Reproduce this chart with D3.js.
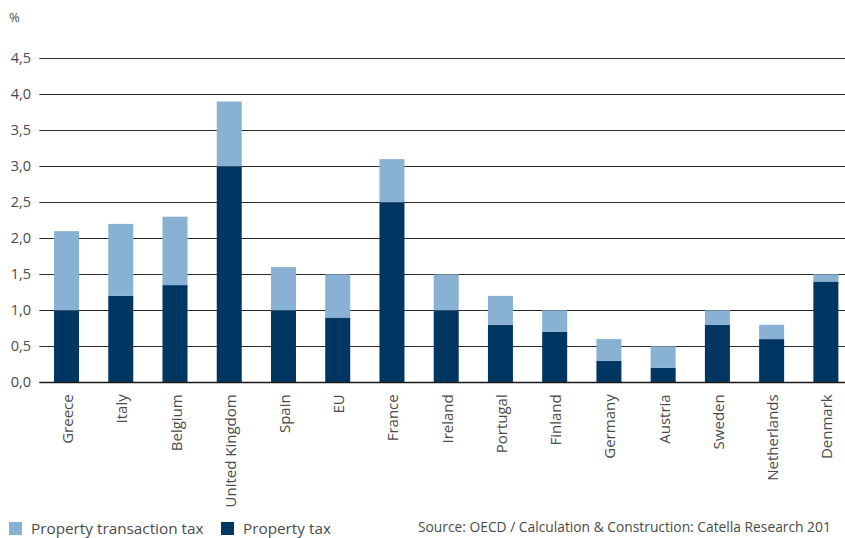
<!DOCTYPE html>
<html>
<head>
<meta charset="utf-8">
<script src="https://cdn.jsdelivr.net/npm/d3@7"></script>
<style>
  html, body { margin: 0; padding: 0; background: #fff; }
  svg { display: block; font-family: "Open Sans", Lato, sans-serif; }
</style>
</head>
<body>
<svg id="chart" width="845" height="538"></svg>
<script>
// Countries, left to right
const countries = ["Greece", "Italy", "Belgium", "United Kingdom", "Spain", "EU", "France",
  "Ireland", "Portugal", "Finland", "Germany", "Austria", "Sweden", "Netherlands", "Denmark"];
// Property tax, % (bottom segment)
const propertyTax = [1.0, 1.2, 1.35, 3.0, 1.0, 0.9, 2.5, 1.0, 0.8, 0.7, 0.3, 0.2, 0.8, 0.6, 1.4];
// Property transaction tax, % (stacked on top)
const transactionTax = [1.1, 1.0, 0.95, 0.9, 0.6, 0.6, 0.6, 0.5, 0.4, 0.3, 0.3, 0.3, 0.2, 0.2, 0.1];
// Y axis ticks
const yTicks = [0, 0.5, 1.0, 1.5, 2.0, 2.5, 3.0, 3.5, 4.0, 4.5];
const seriesNames = ["Property transaction tax", "Property tax"];
const sourceText = "Source: OECD / Calculation & Construction: Catella Research 201";

const colLight = "#89b1d4";
const colDark = "#003662";
const textCol = "#4a4a4a";

const svg = d3.select("#chart");

const x = d3.scaleBand()
  .domain(countries)
  .range([39.4, 853])
  .paddingInner(0.539)
  .paddingOuter(0.2695);

const y = d3.scaleLinear()
  .domain([0, 4.5])
  .range([382.3, 58.3]);

// Gridlines
svg.append("g")
  .selectAll("line")
  .data(yTicks)
  .join("line")
  .attr("x1", 39.4)
  .attr("x2", 853)
  .attr("y1", d => Math.round(y(d)) + 0.5)
  .attr("y2", d => Math.round(y(d)) + 0.5)
  .attr("stroke", "#2a2a2a")
  .attr("stroke-width", 1.1);

// Y tick labels
const fmt = d => d3.format(".1f")(d).replace(".", ",");
svg.append("g")
  .selectAll("text")
  .data(yTicks)
  .join("text")
  .attr("x", 31)
  .attr("y", d => y(d))
  .attr("dy", "0.35em")
  .attr("text-anchor", "end")
  .attr("font-size", 14.5)
  .attr("fill", textCol)
  .text(fmt);

svg.append("text")
  .attr("x", 9)
  .attr("y", 22)
  .attr("font-size", 13)
  .attr("fill", textCol)
  .text("%");

// Stacked bars
const rows = countries.map((c, i) => ({ country: c, property: propertyTax[i], transaction: transactionTax[i] }));
const stack = d3.stack().keys(["property", "transaction"])(rows);
const colors = { property: colDark, transaction: colLight };

svg.append("g")
  .selectAll("g")
  .data(stack)
  .join("g")
  .attr("fill", s => colors[s.key])
  .selectAll("rect")
  .data(s => s)
  .join("rect")
  .attr("x", d => x(d.data.country))
  .attr("width", x.bandwidth())
  .attr("y", d => y(d[1]))
  .attr("height", d => y(d[0]) - y(d[1]));

// Baseline
svg.append("line")
  .attr("x1", 39.4).attr("x2", 853)
  .attr("y1", Math.round(y(0)) + 0.5).attr("y2", Math.round(y(0)) + 0.5)
  .attr("stroke", "#1a1a1a")
  .attr("stroke-width", 1.4);

// Category labels, rotated
svg.append("g")
  .selectAll("text")
  .data(countries)
  .join("text")
  .attr("transform", d => `translate(${x(d) + x.bandwidth() / 2 + 6.5},${y(0) + 12}) rotate(-90)`)
  .attr("text-anchor", "end")
  .attr("font-size", 15)
  .attr("fill", textCol)
  .text(d => d);

// Legend
const legend = svg.append("g");
const legendItems = [
  { name: seriesNames[0], color: colLight, x: 9, tx: 31 },
  { name: seriesNames[1], color: colDark, x: 221, tx: 243 }
];
legendItems.forEach(it => {
  legend.append("rect")
    .attr("x", it.x).attr("y", 522)
    .attr("width", 13).attr("height", 13)
    .attr("fill", it.color);
  legend.append("text")
    .attr("x", it.tx).attr("y", 534)
    .attr("font-size", 15.3)
    .attr("fill", textCol)
    .text(it.name);
});

svg.append("text")
  .attr("x", 418)
  .attr("y", 532)
  .attr("font-size", 13.8)
  .attr("fill", textCol)
  .text(sourceText);
</script>
</body>
</html>
